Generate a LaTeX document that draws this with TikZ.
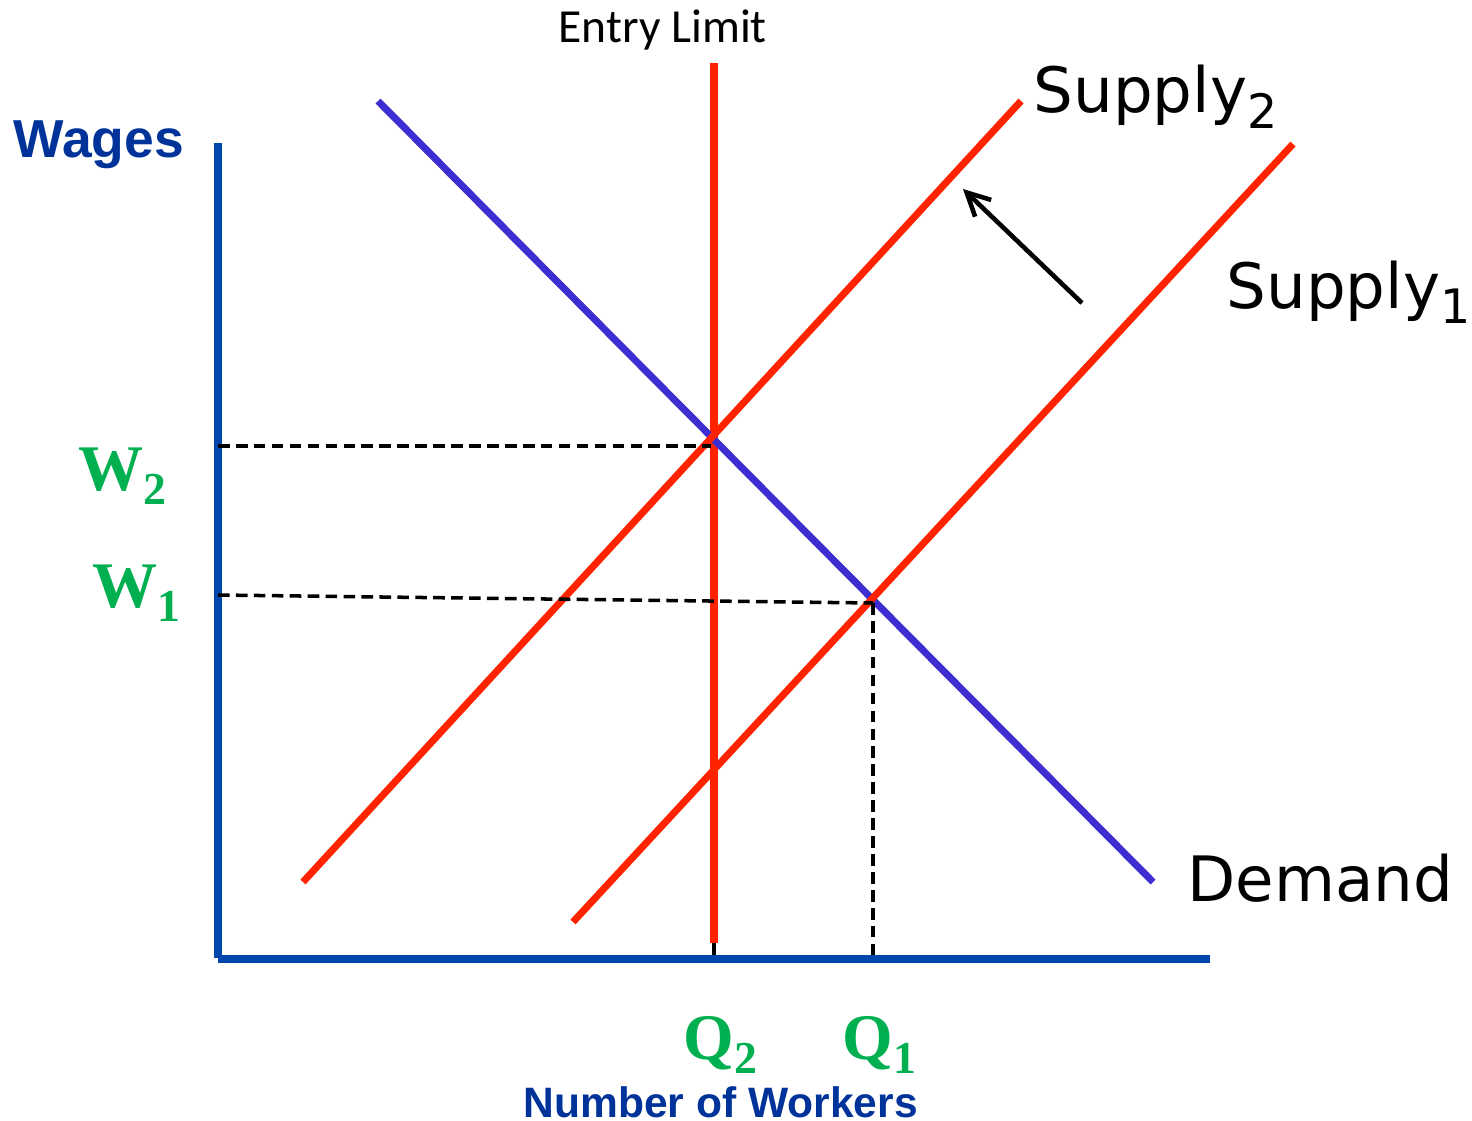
\documentclass[tikz,border=0pt]{standalone}
\usepackage{fontspec}
\usetikzlibrary{arrows.meta}
\newfontfamily\arialfont{Liberation Sans}
\newfontfamily\calfont{Carlito}
\newfontfamily\verdfont{DejaVu Sans}
\newfontfamily\timesfont{Liberation Serif}
\definecolor{axisblue}{RGB}{0,71,171}
\definecolor{textblue}{RGB}{0,51,153}
\definecolor{curvered}{RGB}{255,35,0}
\definecolor{demandblue}{RGB}{62,45,208}
\definecolor{levelgreen}{RGB}{0,176,80}
% level label (W, Q) and curve label (Supply) with a lowered index
\newcommand{\lvl}[2]{#1\raisebox{-4pt}{\fontsize{13}{14}\selectfont #2}}
\newcommand{\crv}[2]{#1\raisebox{-4.4pt}{\fontsize{13.5}{15}\selectfont #2}}

\begin{document}
\begin{tikzpicture}[x=0.01cm, y=-0.01cm,
    axis/.style={line width=2.1pt, axisblue},
    supply/.style={line width=2pt, curvered},
    guide/.style={line width=1pt, dash pattern=on 3.3pt off 1.8pt},
    lbl/.style={inner sep=0pt, anchor=base west},
    curvelbl/.style={lbl, font=\verdfont\fontsize{17.8}{20}\selectfont},
    levellbl/.style={lbl, text=levelgreen, font=\timesfont\bfseries\fontsize{18.5}{20}\selectfont},
    axislbl/.style={lbl, text=textblue, font=\arialfont\bfseries}]
    \useasboundingbox (0,0) rectangle (1472,1121);

    % Axes
    \coordinate (ytop) at (218,143);
    \coordinate (origin) at (218,959);
    \coordinate (xend) at (1210,959);
    \draw[axis] (ytop) -- ([yshift=0.3pt]origin);
    \draw[axis] (origin) -- (xend);
    \node[axislbl, font=\arialfont\bfseries\fontsize{15.2}{17}\selectfont] (wages) at (13,157) {Wages};
    \node[axislbl, font=\arialfont\bfseries\fontsize{12.1}{14}\selectfont] (workers) at (523,1117) {Number of Workers};

    % Entry limit
    \coordinate (limtop) at (714,63);
    \coordinate (limbot) at (714,943);
    \draw[line width=2.3pt, curvered] (limtop) -- (limbot);
    \node[lbl, font=\calfont\fontsize{13.5}{15}\selectfont] (limit) at (558,42) {Entry Limit};

    % Demand
    \draw[line width=2pt, demandblue] (378,101) -- (1153,882);
    \node[curvelbl] (demand) at (1187,901) {Demand};

    % Supply before and after the limit
    \draw[supply] (573,922) -- (1293,144);
    \draw[supply] (303,882) -- (1021,101);
    \node[curvelbl] (supply1) at (1226,308) {\crv{Supply}{1}};
    \node[curvelbl] (supply2) at (1033,113) {\crv{Supply}{2}};

    % Shift of supply
    \coordinate (shiftS) at (1082,303);
    \coordinate (shiftE) at (963,189);
    \draw[line width=1.3pt, -{Straight Barb[length=6.5pt,width=6.6pt]}] (shiftS) -- (shiftE);

    % Equilibria
    \coordinate (eq2) at (711,446);
    \coordinate (eq1) at (873,603);
    \draw[guide] (218,446) -- (eq2);
    \draw[guide] (218,595) -- (eq1);
    \draw[guide] (eq1) -- (873,958);
    \draw[guide] (limbot) -- (714,958);

    % Levels
    \node[levellbl] (w2) at (78,490) {\lvl{W}{2}};
    \node[levellbl] (w1) at (92,607) {\lvl{W}{1}};
    \node[levellbl] (q2) at (683,1059) {\lvl{Q}{2}};
    \node[levellbl] (q1) at (842,1059) {\lvl{Q}{1}};
\end{tikzpicture}
\end{document}
